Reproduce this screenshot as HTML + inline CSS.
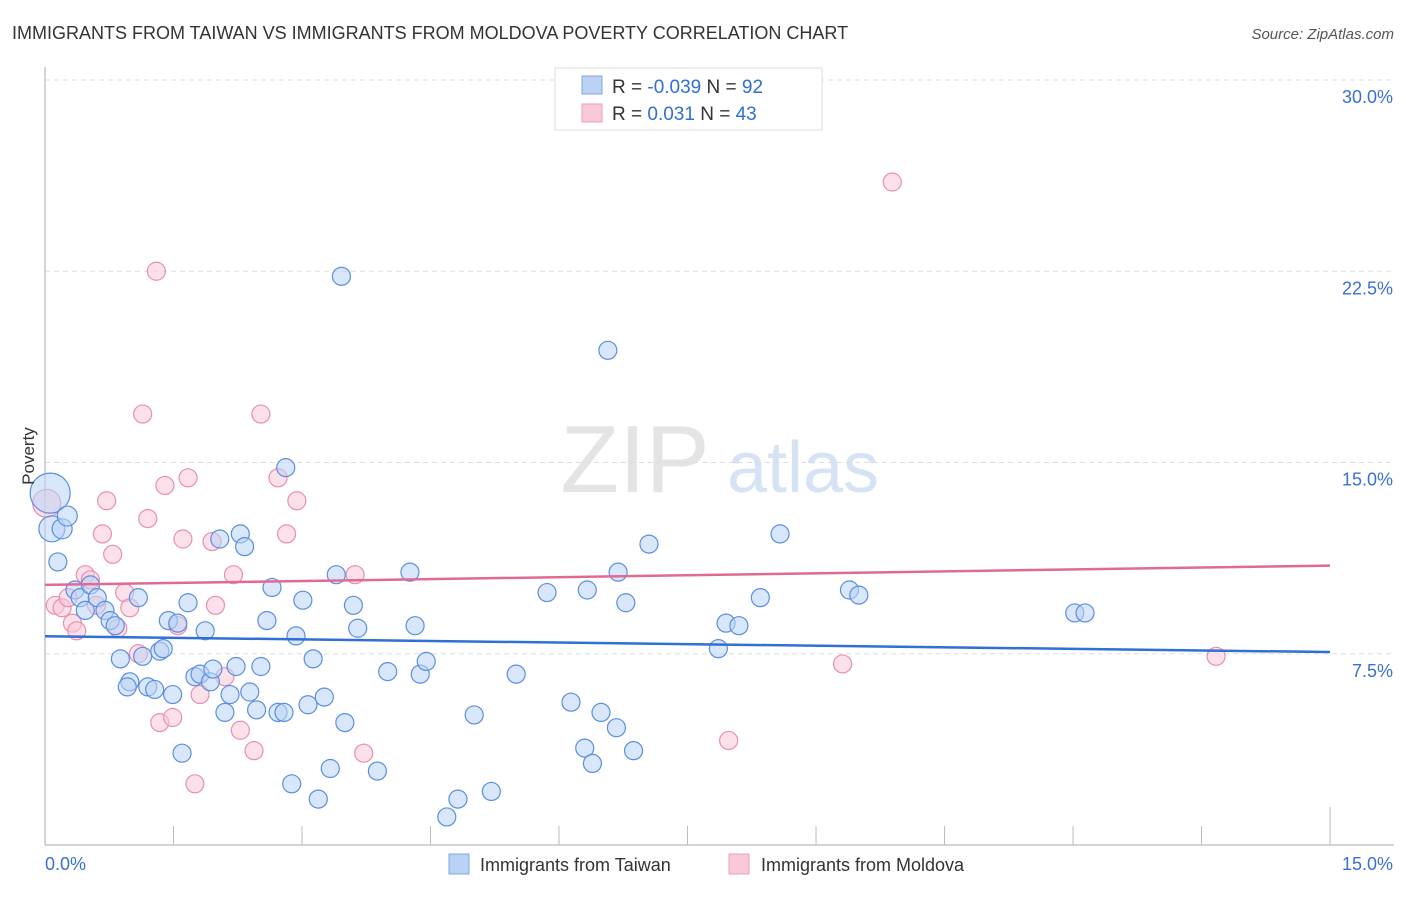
<!DOCTYPE html>
<html><head><meta charset="utf-8"><style>
body{margin:0;background:#fff;font-family:"Liberation Sans",sans-serif;}
svg text{font-family:"Liberation Sans",sans-serif;}
</style></head><body>
<svg width="1406" height="892" viewBox="0 0 1406 892" id="c">
<text x="12" y="39" font-size="18" fill="#333">IMMIGRANTS FROM TAIWAN VS IMMIGRANTS FROM MOLDOVA POVERTY CORRELATION CHART</text>
<text x="1394" y="39" font-size="15" fill="#555" font-style="italic" text-anchor="end">Source: ZipAtlas.com</text>
<g><text x="635" y="492" font-size="96" fill="#e4e4e4" font-family="Liberation Serif,serif" text-anchor="middle">ZIP</text><text x="803" y="492" font-size="72" fill="#d6e3f5" text-anchor="middle">atlas</text></g>
<g id="grid"></g><g id="axes"></g><g id="pts"></g><g id="trend"></g>
<text x="34" y="456" font-size="17" fill="#333" text-anchor="middle" transform="rotate(-90 34 456)">Poverty</text>
<g>
<rect x="555" y="68" width="267" height="62" fill="#fff" stroke="#ddd"/>
<rect x="582" y="76" width="20" height="18" fill="#b9d3f5" stroke="#7fa7e0"/>
<rect x="582" y="104" width="20" height="18" fill="#f9c9d8" stroke="#e8a0b8"/>
<text x="612" y="93" font-size="19" fill="#333">R = <tspan fill="#2f6fd6">-0.039</tspan>   N = <tspan fill="#2f6fd6">92</tspan></text>
<text x="612" y="120" font-size="19" fill="#333">R =  <tspan fill="#2f6fd6"> 0.031</tspan>   N = <tspan fill="#2f6fd6">43</tspan></text>
</g>
<g>
<rect x="449" y="854" width="20" height="20" fill="#b9d3f5" stroke="#7fa7e0"/>
<text x="480" y="871" font-size="18" fill="#333">Immigrants from Taiwan</text>
<rect x="729" y="854" width="20" height="20" fill="#f9c9d8" stroke="#e8a0b8"/>
<text x="761" y="871" font-size="18" fill="#333">Immigrants from Moldova</text>
</g>
</svg>
<script>
const yTicks=[7.5,15,22.5,30];
const yTickLabels=["7.5%","15.0%","22.5%","30.0%"];
const xTicks=[0,1.5,3,4.5,6,7.5,9,10.5,12,13.5,15];
const taiwanX=[0.06,0.08,0.2,0.26,0.15,0.35,0.41,0.47,0.53,0.61,0.7,0.76,0.82,0.88,0.99,0.96,1.09,1.14,1.2,1.28,1.34,1.38,1.44,1.49,1.55,1.6,1.67,1.75,1.81,1.87,1.93,1.96,2.04,2.1,2.16,2.23,2.28,2.33,2.39,2.47,2.52,2.59,2.65,2.72,2.79,2.81,2.88,2.93,3.01,3.07,3.13,3.19,3.26,3.33,3.4,3.46,3.5,3.6,3.65,3.88,4.0,4.26,4.32,4.38,4.45,4.69,4.82,5.01,5.21,5.5,5.86,6.14,6.3,6.33,6.39,6.49,6.57,6.67,6.69,6.78,6.87,7.05,7.86,7.95,8.1,8.35,8.58,9.39,9.5,12.02,12.14];
const taiwanY=[13.8,12.4,12.4,12.9,11.1,10.0,9.7,9.2,10.2,9.7,9.2,8.8,8.6,7.3,6.4,6.2,9.7,7.4,6.2,6.1,7.6,7.7,8.8,5.9,8.7,3.6,9.5,6.6,6.7,8.4,6.4,6.9,12.0,5.2,5.9,7.0,12.2,11.7,6.0,5.3,7.0,8.8,10.1,5.2,5.2,14.8,2.4,8.2,9.6,5.5,7.3,1.8,5.8,3.0,10.6,22.3,4.8,9.4,8.5,2.9,6.8,10.7,8.6,6.7,7.2,1.1,1.8,5.1,2.1,6.7,9.9,5.6,3.8,10.0,3.2,5.2,19.4,4.6,10.7,9.5,3.7,11.8,7.7,8.7,8.6,9.7,12.2,10.0,9.8,9.1,9.1];
const moldovaX=[0.02,0.12,0.2,0.27,0.32,0.37,0.47,0.53,0.6,0.72,0.67,0.79,0.85,0.93,0.99,1.09,1.14,1.2,1.3,1.34,1.4,1.49,1.55,1.61,1.67,1.75,1.81,1.95,1.99,2.1,2.2,2.28,2.44,2.52,2.72,2.82,2.94,3.62,3.72,7.98,9.31,9.89,13.67];
const moldovaY=[13.4,9.4,9.3,9.7,8.7,8.4,10.6,10.4,9.4,13.5,12.2,11.4,8.5,9.9,9.3,7.5,16.9,12.8,22.5,4.8,14.1,5.0,8.6,12.0,14.4,2.4,5.9,11.9,9.4,6.6,10.6,4.5,3.7,16.9,14.4,12.2,13.5,10.6,3.6,4.1,7.1,26.0,7.4];
const ns="http://www.w3.org/2000/svg";
const X=v=>45+v*85.67, Y=v=>80+(30-v)*25.5;
function mk(t,a,p){const e=document.createElementNS(ns,t);for(const k in a)e.setAttribute(k,a[k]);p.appendChild(e);return e;}
const grid=document.getElementById('grid'),axes=document.getElementById('axes'),pts=document.getElementById('pts'),tr=document.getElementById('trend');
yTicks.forEach((v,i)=>{const l=mk('line',{x1:45,x2:1394,y1:Y(v),y2:Y(v),stroke:'#ddd','stroke-dasharray':'5,4'},grid);


const t=mk('text',{x:1393,y:Y(v)+23,'font-size':18,fill:'#3b6fd4','text-anchor':'end'},axes);t.textContent=yTickLabels[i];

});
const ax=mk('line',{x1:45,x2:1394,y1:845,y2:845,stroke:'#aaa'},axes);


const ay=mk('line',{x1:45,x2:45,y1:67,y2:845,stroke:'#aaa'},axes);


xTicks.forEach((v,i)=>{if(i==0)return;const l=mk('line',{x1:X(v),x2:X(v),y1:i==xTicks.length-1?807:826,y2:845,stroke:'#bbb'},axes);

});
[[0,'0.0%','start',45],[15,'15.0%','end',1393]].forEach(d=>{const t=mk('text',{x:d[3],y:870,'font-size':18,fill:'#3b6fd4','text-anchor':d[2]},axes);t.textContent=d[1];

});
function series(xs,ys,fill,stroke,name){xs.forEach((x,i)=>{const r=(i==0)?(name=='taiwan-point'?20:14):(name=='taiwan-point'&&i==1?13:(i==2||i==3)&&name=='taiwan-point'?10:9);
const c=mk('circle',{cx:X(x),cy:Y(ys[i]),r:r,fill:fill,'fill-opacity':0.55,stroke:stroke,'stroke-width':1.2},pts);

});}
series(moldovaX,moldovaY,'#f9c9d8','#e98fae','moldova-point');
series(taiwanX,taiwanY,'#b9d3f5','#5b8ee0','taiwan-point');
function fit(xs,ys){const n=xs.length,mx=xs.reduce((a,b)=>a+b)/n,my=ys.reduce((a,b)=>a+b)/n;let sxy=0,sxx=0;xs.forEach((x,i)=>{sxy+=(x-mx)*(ys[i]-my);sxx+=(x-mx)**2});const b=sxy/sxx;return [my-b*mx,b];}
[[taiwanX,taiwanY,'#2f6fd6','taiwan-trendline'],[moldovaX,moldovaY,'#e06a95','moldova-trendline']].forEach(s=>{const [a,b]=fit(s[0],s[1]);
const l=mk('line',{x1:X(0),x2:X(15),y1:Y(a),y2:Y(a+b*15),stroke:s[2],'stroke-width':2.5},tr);

});
</script>
</body></html>
